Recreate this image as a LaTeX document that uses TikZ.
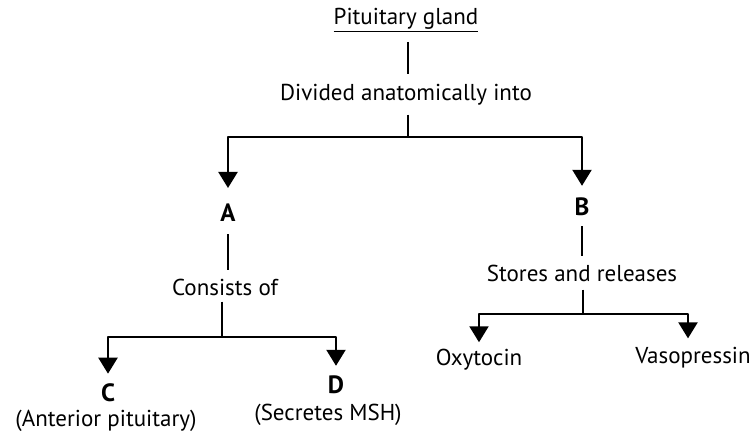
\documentclass[tikz,border=0pt]{standalone}
\usepackage{fontspec}
\setmainfont{PT Sans}
\usetikzlibrary{arrows.meta}
\begin{document}
\begin{tikzpicture}[x=1pt, y=-1pt, >={Triangle[width=19pt,length=16pt]},
	font=\fontsize{23}{25}\selectfont, line join=round,
	txt/.style={inner sep=0pt},
	lbl/.style={inner sep=0pt, font=\fontsize{25}{27}\selectfont\bfseries},
	tick/.style={line width=1.6pt, shorten <=10pt, shorten >=10pt},
	branch/.style={line width=2.2pt}]
	\useasboundingbox (0,0) rectangle (752,444);
	% texts
	\node[txt] (pit) at (406,20) {\underline{Pituitary gland}};
	\node[txt] (div) at (406,95) {Divided anatomically into};
	\node[lbl] (A) at (228,213) {A};
	\node[lbl] (B) at (582,207) {B};
	\node[txt] (cons) at (225,287) {Consists of};
	\node[txt] (store) at (582,273) {Stores and releases};
	\node[lbl] (C) at (108,393) {C};
	\node[txt] (antpit) at (106,421) {(Anterior pituitary)};
	\node[lbl] (D) at (336,385) {D};
	\node[txt] (secr) at (328,415) {(Secretes MSH)};
	\node[txt] (oxy) at (479,360) {Oxytocin};
	\node[txt] (vaso) at (693,358) {Vasopressin};
	% split points
	\coordinate (sAB) at (408,137);
	\coordinate (sCD) at (222,337);
	\coordinate (sOV) at (583,314);
	% links
	\draw[tick] (pit.south -| 408,0) -- (div.north -| 408,0);
	\draw[branch, shorten <=9pt] (div.south -| sAB) -- (sAB);
	\draw[branch, ->, shorten >=16pt] (sAB) -| (A);
	\draw[branch, ->, shorten >=12pt] (sAB) -| (B);
	\draw[tick, shorten <=12pt, shorten >=8pt] (A) -- (cons.north -| A);
	\draw[tick, shorten <=10pt, shorten >=8pt] (B) -- (store.north -| B);
	\draw[branch, shorten <=6pt] (cons.south -| sCD) -- (sCD);
	\draw[branch, ->, shorten >=10pt] (sCD) -| (C);
	\draw[branch, ->, shorten >=10pt] (sCD) -| (D);
	\draw[branch, shorten <=8pt] (store.south -| sOV) -- (sOV);
	\draw[branch, ->, shorten >=7pt] (sOV) -| (oxy);
	\draw[branch, ->, shorten >=9pt] (sOV) -| (vaso.north -| 688,0);
\end{tikzpicture}
\end{document}
